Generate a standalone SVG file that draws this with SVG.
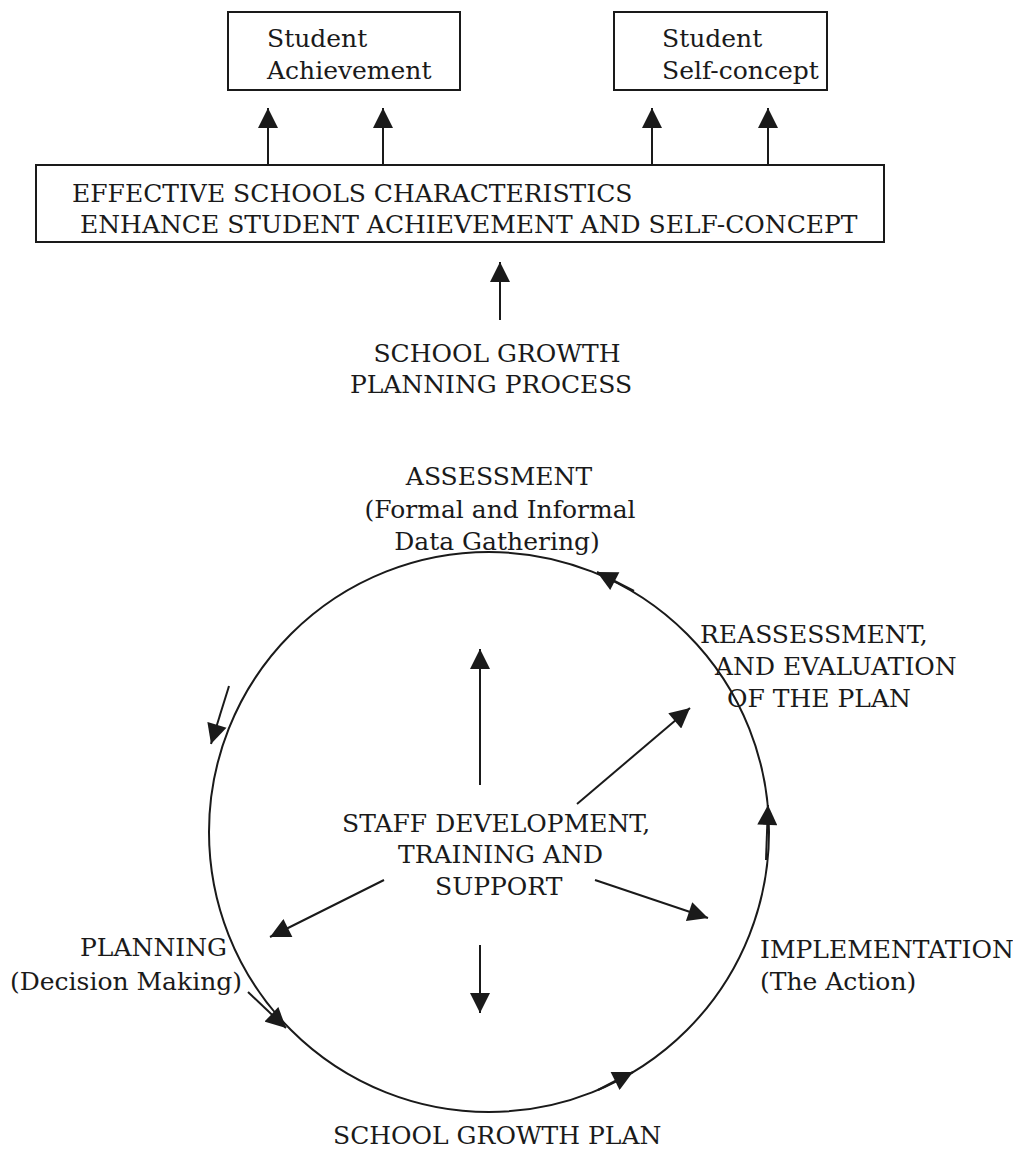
<svg xmlns="http://www.w3.org/2000/svg" width="1013" height="1150" viewBox="0 0 1013 1150">
  <style>
    text { font-family: "DejaVu Serif", "Liberation Serif", serif; font-size: 25px; fill: #1a1a1a; }
    .box { fill: #fff; stroke: #1a1a1a; stroke-width: 2; }
    .ln { fill: none; stroke: #1a1a1a; stroke-width: 2; }
    .c { text-anchor: middle; }
    .e { text-anchor: end; }
  </style>
  <defs>
    <marker id="head" viewBox="0 0 20 20" refX="20" refY="10" markerWidth="21" markerHeight="20" markerUnits="userSpaceOnUse" orient="auto">
      <path d="M0,0 L20,10 L0,20 Z" fill="#1a1a1a"/>
    </marker>
  </defs>

  <rect width="1013" height="1150" fill="#fff"/>

  <!-- outcome boxes -->
  <g id="student-achievement">
    <rect class="box" x="228" y="12" width="232" height="78"/>
    <text x="267" y="47">Student</text>
    <text x="267" y="79">Achievement</text>
  </g>
  <g id="student-self-concept">
    <rect class="box" x="614" y="12" width="213" height="78"/>
    <text x="662" y="47">Student</text>
    <text x="662" y="79">Self-concept</text>
  </g>

  <g id="effective-schools">
    <rect class="box" x="36" y="165" width="848" height="77"/>
    <text x="72" y="202">EFFECTIVE SCHOOLS CHARACTERISTICS</text>
    <text x="80" y="233">ENHANCE STUDENT ACHIEVEMENT AND SELF-CONCEPT</text>
  </g>

  <g id="planning-process">
    <text class="c" x="497" y="362">SCHOOL GROWTH</text>
    <text class="c" x="491" y="393">PLANNING PROCESS</text>
  </g>

  <!-- cycle stages -->
  <g id="assessment">
    <text class="c" x="499" y="485">ASSESSMENT</text>
    <text class="c" x="500" y="518">(Formal and Informal</text>
    <text class="c" x="497" y="550">Data Gathering)</text>
  </g>
  <g id="reassessment">
    <text x="700" y="643">REASSESSMENT,</text>
    <text x="715" y="675">AND EVALUATION</text>
    <text x="727" y="707">OF THE PLAN</text>
  </g>
  <g id="staff-development">
    <text x="342" y="832">STAFF DEVELOPMENT,</text>
    <text x="398" y="863">TRAINING AND</text>
    <text x="435" y="895">SUPPORT</text>
  </g>
  <g id="planning">
    <text class="e" x="227" y="956">PLANNING</text>
    <text class="e" x="242" y="990">(Decision Making)</text>
  </g>
  <g id="implementation">
    <text x="760" y="958">IMPLEMENTATION</text>
    <text x="760" y="990">(The Action)</text>
  </g>
  <g id="school-growth-plan">
    <text x="333" y="1144">SCHOOL GROWTH PLAN</text>
  </g>

  <g id="connectors">
    <!-- upward links to outcomes -->
    <line class="ln" x1="268" y1="165" x2="268" y2="108" marker-end="url(#head)"/>
    <line class="ln" x1="383" y1="165" x2="383" y2="108" marker-end="url(#head)"/>
    <line class="ln" x1="652" y1="165" x2="652" y2="108" marker-end="url(#head)"/>
    <line class="ln" x1="768" y1="165" x2="768" y2="108" marker-end="url(#head)"/>
    <line class="ln" x1="500" y1="320" x2="500" y2="262" marker-end="url(#head)"/>

    <!-- the cycle -->
    <circle class="ln" cx="489" cy="832" r="280"/>
    <line class="ln" x1="634" y1="591" x2="597" y2="572" marker-end="url(#head)"/>
    <line class="ln" x1="229" y1="686" x2="211" y2="744" marker-end="url(#head)"/>
    <line class="ln" x1="248" y1="992" x2="286" y2="1028" marker-end="url(#head)"/>
    <path class="ln" d="M598,1090 Q615,1081 633,1072" marker-end="url(#head)"/>
    <line class="ln" x1="766" y1="860" x2="768" y2="805" marker-end="url(#head)"/>

    <!-- spokes from staff development -->
    <line class="ln" x1="480" y1="785" x2="480" y2="649" marker-end="url(#head)"/>
    <line class="ln" x1="577" y1="804" x2="690" y2="708" marker-end="url(#head)"/>
    <line class="ln" x1="595" y1="880" x2="708" y2="918" marker-end="url(#head)"/>
    <line class="ln" x1="384" y1="880" x2="270" y2="937" marker-end="url(#head)"/>
    <line class="ln" x1="480" y1="945" x2="480" y2="1013" marker-end="url(#head)"/>
  </g>
</svg>
